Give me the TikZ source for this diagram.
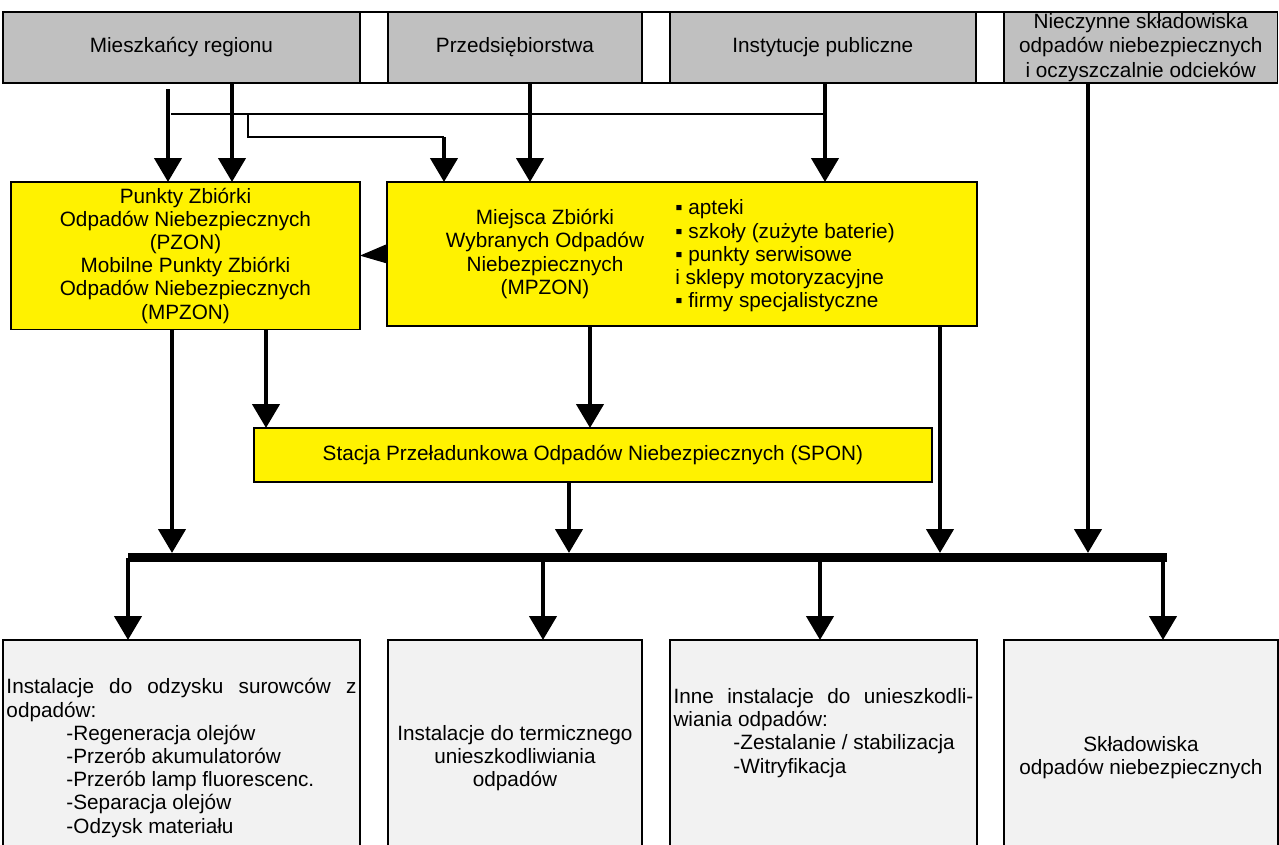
\documentclass[tikz,border=0pt]{standalone}
\usepackage{fontspec}
\setmainfont{Liberation Sans}
\usetikzlibrary{shapes, arrows.meta, positioning, calc}
\definecolor{szary}{HTML}{C0C0C0}
\definecolor{jasny}{HTML}{F2F2F2}

\begin{document}
\begin{tikzpicture}
  [x=0.02cm, y=-0.02cm,
  % zrodlo
  zrodlo/.style = {rectangle,
    draw, line width=0.8pt, fill=szary,
    outer sep=0pt, inner sep=1pt,
    minimum height=1.42cm, align=center,
    font=\fontsize{11.8}{13.2}\selectfont},
  % przerwa
  przerwa/.style = {rectangle,
    draw, line width=0.8pt, fill=white,
    outer sep=0pt, minimum height=1.42cm,
    minimum width=0.56cm},
  % punkt
  punkt/.style = {rectangle,
    draw, line width=0.8pt, fill=yellow,
    outer sep=0pt, anchor=north west, align=center,
    font=\fontsize{11.8}{13.2}\selectfont},
  % instalacja
  instal/.style = {rectangle,
    draw, line width=0.8pt, fill=jasny,
    outer sep=0pt, inner sep=1pt, anchor=north west,
    minimum height=4.72cm,
    font=\fontsize{11.8}{13.2}\selectfont},
  % opis
  opis/.style = {inner sep=0pt,
    font=\fontsize{11.8}{13.2}\selectfont},
  % line
  line/.style = {draw, line width=0.09cm,
    -{Triangle[length=0.48cm, width=0.54cm]}},
  cienka/.style = {draw, line width=0.7pt},
  szyna/.style = {draw, line width=0.17cm},
  ]
  \useasboundingbox (0,0) rectangle (1279,845);

  % nodes
  \node [zrodlo, minimum width=7.14cm, anchor=north west] (mieszk) at (3,12) {Mieszkańcy regionu};
  \node [przerwa, right=0pt of mieszk] (przerwa1) {};
  \node [zrodlo, minimum width=5.08cm, right=0pt of przerwa1] (przeds) {Przedsiębiorstwa};
  \node [przerwa, right=0pt of przeds] (przerwa2) {};
  \node [zrodlo, minimum width=6.12cm, right=0pt of przerwa2] (instyt) {Instytucje publiczne};
  \node [przerwa, right=0pt of instyt] (przerwa3) {};
  \node [zrodlo, minimum width=5.48cm, right=0pt of przerwa3,
    font=\fontsize{11.8}{13.8}\selectfont] (nieczyn) {Nieczynne składowiska\\odpadów niebezpiecznych\\i oczyszczalnie odcieków};

  \node [punkt, minimum width=6.98cm, minimum height=2.88cm] (pzon) at (11,182) {Punkty Zbiórki\\Odpadów Niebezpiecznych\\(PZON)\\Mobilne Punkty Zbiórki\\Odpadów Niebezpiecznych\\(MPZON)};
  \node [punkt, minimum width=11.8cm, minimum height=2.88cm] (mzwon) at (387,182) {};
  \node [opis, align=center] (mzwonnazwa) at (545,254) {Miejsca Zbiórki\\Wybranych Odpadów\\Niebezpiecznych\\(MPZON)};
  \node [opis, align=left, anchor=west] (mzwonlista) at (675,256) {▪ apteki\\▪ szkoły (zużyte baterie)\\▪ punkty serwisowe\\i sklepy motoryzacyjne\\▪ firmy specjalistyczne};
  \node [punkt, minimum width=13.56cm, minimum height=1.08cm] (spon) at (254,428) {Stacja Przeładunkowa Odpadów Niebezpiecznych (SPON)};

  \node [instal, minimum width=7.14cm, align=left] (inst1) at (3,640) {\makebox[7.0cm][s]{Instalacje do odzysku surowców z}\\odpadów:\\\hspace*{1.2cm}-Regeneracja olejów\\\hspace*{1.2cm}-Przerób akumulatorów\\\hspace*{1.2cm}-Przerób lamp fluorescenc.\\\hspace*{1.2cm}-Separacja olejów\\\hspace*{1.2cm}-Odzysk materiału};
  \node [instal, minimum width=5.08cm, align=center] (inst2) at (388,640) {Instalacje do termicznego\\unieszkodliwiania\\odpadów};
  \node [instal, minimum width=6.14cm] (inst3) at (670,640) {};
  \node [opis, align=left] (inst3opis) at ($(inst3.center)+(0,-25)$) {\makebox[6.0cm][s]{Inne instalacje do unieszkodli-}\\wiania odpadów:\\\hspace*{1.2cm}-Zestalanie / stabilizacja\\\hspace*{1.2cm}-Witryfikacja};
  \node [instal, minimum width=5.48cm, align=center] (inst4) at (1004,640) {Składowiska\\odpadów niebezpiecznych};

  % coordinates
  \coordinate (k1) at (168,89);
  \coordinate (k2) at (232,0);
  \coordinate (k3) at (444,0);
  \coordinate (k4) at (825,0);
  \coordinate (k5) at (530,0);
  \coordinate (k6) at (172,0);
  \coordinate (k7) at (266,0);
  \coordinate (k8) at (590,0);
  \coordinate (k9) at (569,0);
  \coordinate (k10) at (940,0);
  \coordinate (k11) at (1088,0);
  \coordinate (r1) at (171,114);
  \coordinate (r3) at (248,137);
  \coordinate (szyna) at (0,553);
  \coordinate (szynaL) at (128,557.5);
  \coordinate (szynaP) at (1167,557.5);
  \coordinate (d2) at (543,557.5);
  \coordinate (d3) at (820,557.5);
  \coordinate (d4) at (1163,557.5);

  % path
  \path [line] (k1) -- (k1 |- pzon.north);
  \path [line] (k2 |- mieszk.south) -- (k2 |- pzon.north);
  \path [cienka] (r1) -- (r1 -| k4);
  \path [cienka] (r1 -| r3) -- (r3) -- (r3 -| k3);
  \path [line] (r3 -| k3) -- (k3 |- mzwon.north);
  \path [line] (k5 |- przeds.south) -- (k5 |- mzwon.north);
  \path [line] (k4 |- instyt.south) -- (k4 |- mzwon.north);
  \path [line, line width=0.6pt, -{Triangle[length=0.54cm, width=0.38cm]}] (mzwon.west) -- (pzon.east);

  \path [line] (k6 |- pzon.south) -- (k6 |- szyna);
  \path [line] (k7 |- pzon.south) -- (k7 |- spon.north);
  \path [line] (k8 |- mzwon.south) -- (k8 |- spon.north);
  \path [line] (k9 |- spon.south) -- (k9 |- szyna);
  \path [line] (k10 |- mzwon.south) -- (k10 |- szyna);
  \path [line] (k11 |- nieczyn.south) -- (k11 |- szyna);

  \path [szyna] (szynaL) -- (szynaP);
  \path [line] (szynaL) -- (szynaL |- inst1.north);
  \path [line] (d2) -- (d2 |- inst2.north);
  \path [line] (d3) -- (d3 |- inst3.north);
  \path [line] (d4) -- (d4 |- inst4.north);

\end{tikzpicture}
\end{document}
